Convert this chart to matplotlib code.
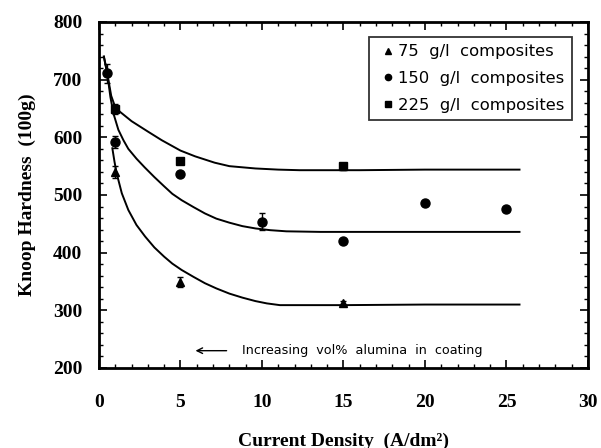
import matplotlib
matplotlib.use("Agg")
import matplotlib.pyplot as plt
from matplotlib.ticker import MultipleLocator
from matplotlib.lines import Line2D

# measured points (Knoop hardness vs current density)
x75 = [1, 5, 15]
y75 = [540, 349, 312]
e75 = [11, 8, 5]

x150 = [0.5, 1, 5, 10, 15, 20, 25]
y150 = [711, 592, 536, 454, 421, 486, 475]
e150 = [16, 10, 0, 15, 0, 0, 0]

x225 = [1, 5, 15]
y225 = [649, 559, 550]
e225 = [8, 0, 6]

# fitted curves
fit225_x = [0.3, 0.5, 0.75, 1.0, 1.3, 2.0, 3.0, 3.85, 5.0, 5.9, 7.1, 8.0, 9.6, 11, 12.3, 16, 20, 25.8]
fit225_y = [740, 712, 672, 652, 644, 628, 610, 595, 577, 567, 556, 550, 546, 544, 543, 543, 544, 544]

fit150_x = [0.3, 0.5, 0.7, 0.88, 1.19, 1.5, 1.8, 2.3, 2.8, 3.4, 4.0, 4.5, 5.07, 5.8, 6.5, 7.2,
            8.0, 8.8, 9.6, 10.5, 11.5, 13.6, 25.8]
fit150_y = [740, 712, 670, 642, 613, 595, 580, 563, 548, 531, 515, 502, 491, 479, 468, 459,
            452, 446, 442, 439, 437, 436, 436]

fit75_x = [0.82, 0.95, 1.08, 1.4, 1.8, 2.3, 2.83, 3.4, 4.0, 4.5, 5.07, 5.8, 6.5, 7.2, 8.0,
           8.8, 9.6, 10.3, 11.1, 15, 20, 25.8]
fit75_y = [581, 558, 538, 503, 474, 448, 428, 409, 393, 381, 370, 358, 347, 338, 329,
           322, 316, 312, 309, 309, 310, 310]

labels = ["75  g/l  composites", "150  g/l  composites", "225  g/l  composites"]

serif = "Liberation Serif"
sans = "DejaVu Sans"

fig = plt.figure(figsize=(6.01, 4.48), dpi=100)
ax = fig.add_axes([0.1647, 0.1786, 0.8136, 0.7723])

for fx, fy in [(fit225_x, fit225_y), (fit150_x, fit150_y), (fit75_x, fit75_y)]:
    ax.plot(fx, fy, color="black", lw=1.4)

ax.errorbar(x75, y75, yerr=e75, fmt="^", color="black", ms=6, capsize=2.5, elinewidth=1)
ax.errorbar(x150, y150, yerr=e150, fmt="o", color="black", ms=6.5, capsize=2.5, elinewidth=1)
ax.errorbar(x225, y225, yerr=e225, fmt="s", color="black", ms=6, capsize=2.5, elinewidth=1)

ax.set_xlim(0, 30)
ax.set_ylim(200, 800)
ax.xaxis.set_major_locator(MultipleLocator(5))
ax.xaxis.set_minor_locator(MultipleLocator(1))
ax.yaxis.set_major_locator(MultipleLocator(100))
ax.yaxis.set_minor_locator(MultipleLocator(20))
ax.tick_params(which="both", direction="in", top=True, right=True)
ax.tick_params(which="major", length=6, width=1.2)
ax.tick_params(which="minor", length=3, width=1)
ax.tick_params(axis="x", pad=19)
ax.tick_params(axis="y", pad=12)
for s in ax.spines.values():
    s.set_linewidth(2)

for lab in ax.get_xticklabels() + ax.get_yticklabels():
    lab.set_fontfamily(serif)
    lab.set_fontweight("bold")
    lab.set_fontsize(14)

ax.set_xlabel("Current Density  (A/dm²)", fontfamily=serif,
              fontweight="bold", fontsize=14, labelpad=15)
ax.set_ylabel("Knoop Hardness  (100g)", fontfamily=serif,
              fontweight="bold", fontsize=14, labelpad=12)

ax.annotate("", xy=(5.75, 230), xytext=(8.0, 230),
            arrowprops=dict(arrowstyle="->", color="black", lw=1))
ax.text(8.75, 230, "Increasing  vol%  alumina  in  coating", fontfamily=sans,
        fontsize=9.2, va="center", ha="left")

handles = [Line2D([], [], marker=m, color="black", ls="none", ms=4.5)
           for m in ["^", "o", "s"]]
leg = ax.legend(handles, labels, loc="upper right", bbox_to_anchor=(0.967, 0.957),
                borderaxespad=0, frameon=True, fancybox=False, handlelength=1.4,
                handletextpad=-0.1, labelspacing=0.72, borderpad=0.45,
                prop={"family": sans, "size": 11.8})
leg.get_frame().set_edgecolor("black")
leg.get_frame().set_linewidth(1.3)

fig.savefig("out.png", dpi=100)
